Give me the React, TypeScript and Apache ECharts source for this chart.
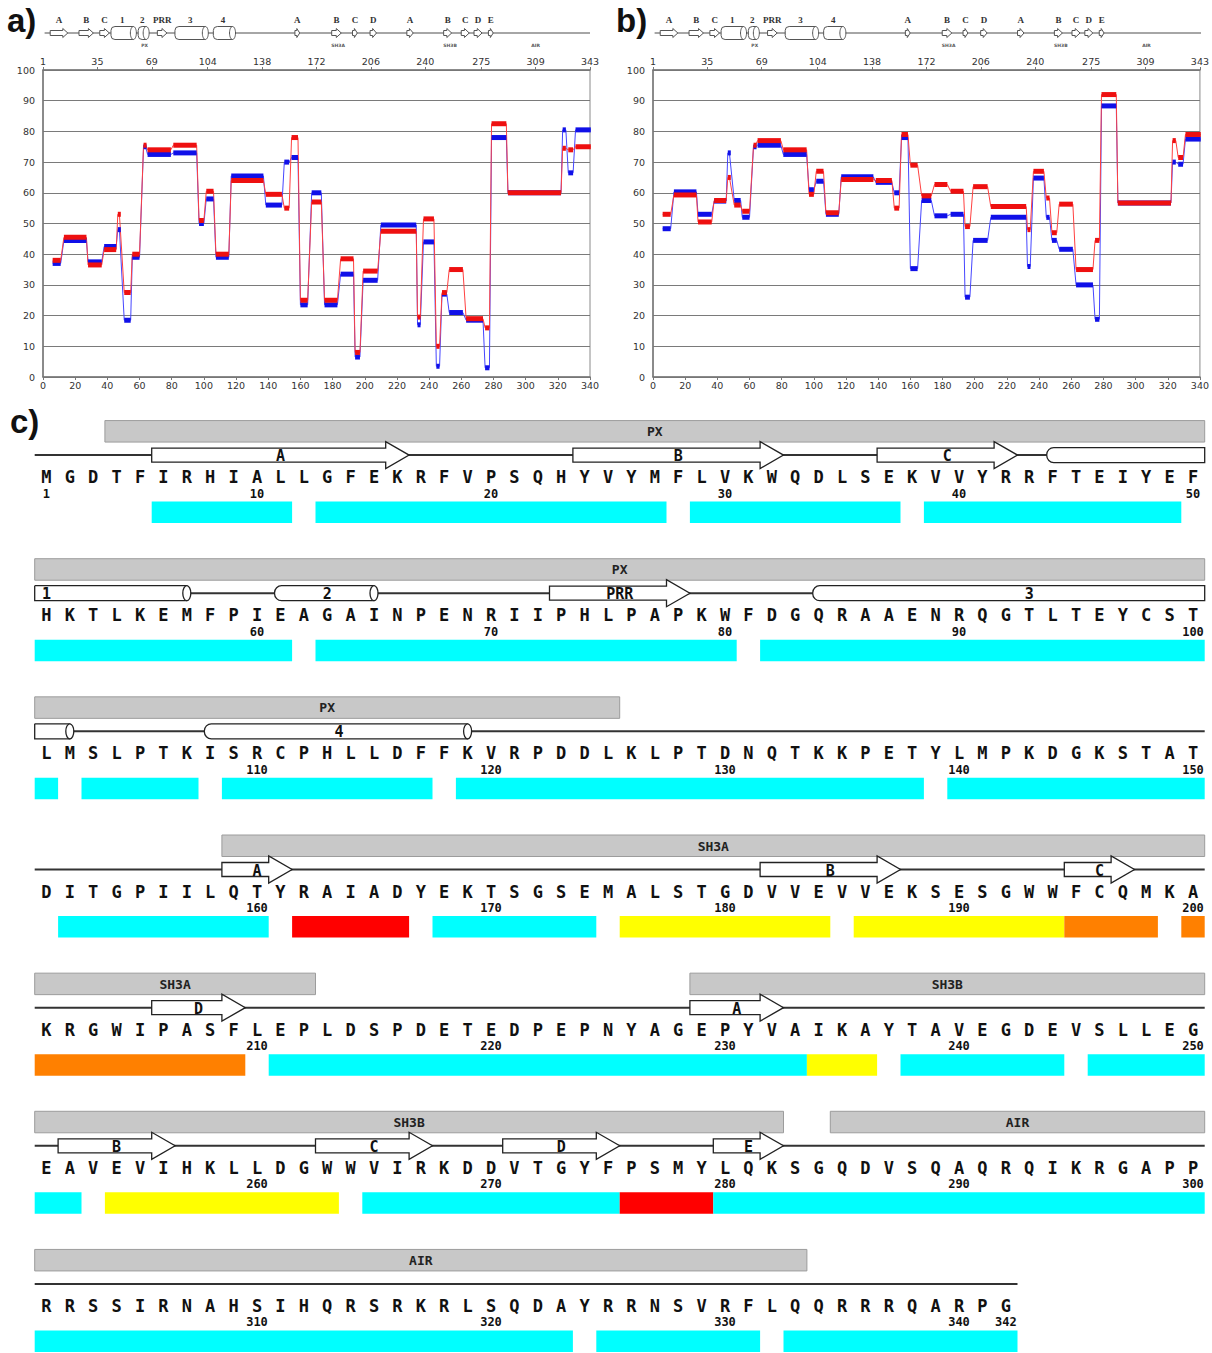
import React, { useEffect, useRef } from "react";
import * as echarts from "echarts";

// ---------------- DATA ----------------
const sequenceRows = [
  "MGDTFIRHIALLGFEKRFVPSQHYVYMFLVKWQDLSEKVVYRRFTEIYEF",
  "HKTLKEMFPIEAGAINPENRIIPHLPAPKWFDGQRAAENRQGTLTEYCST",
  "LMSLPTKISRCPHLLDFFKVRPDDLKLPTDNQTKKPETYLMPKDGKSTAT",
  "DITGPIILQTYRAIADYEKTSGSEMALSTGDVVEVVEKSESGWWFCQMKA",
  "KRGWIPASFLEPLDSPDETEDPEPNYAGEPYVAIKAYTAVEGDEVSLLEG",
  "EAVEVIHKLLDGWWVIRKDDVTGYFPSMYLQKSGQDVSQAQRQIKRGAPP",
  "RRSSIRNAHSIHQRSRKRLSQDAYRRNSVRFLQQRRRQARPG",
];
const sequence = sequenceRows.join("");

// secondary structure elements (E = strand, H = helix)
const ssName = ["A", "B", "C", "1", "2", "PRR", "3", "4", "A", "B", "C", "D", "A", "B", "C", "D", "E"];
const ssType = ["E", "E", "E", "H", "H", "E", "H", "H", "E", "E", "E", "E", "E", "E", "E", "E", "E"];
const ssStart = [6, 24, 37, 44, 61, 73, 84, 108, 159, 182, 195, 206, 229, 252, 263, 271, 280];
const ssEnd = [16, 32, 42, 57, 65, 78, 102, 119, 161, 187, 197, 209, 232, 256, 267, 275, 282];

// domains
const domainName = ["PX", "SH3A", "SH3B", "AIR"];
const domainStart = [4, 159, 229, 285];
const domainEnd = [125, 212, 282, 333];

// accessibility / conservation bars (c = cyan, r = red, y = yellow, o = orange)
const accStart = [6, 13, 29, 39, 51, 63, 82, 101, 103, 109, 119, 140, 152, 162, 168, 176, 186, 195, 200, 201, 211, 234, 238, 246, 251, 254, 265, 276, 280, 301, 325, 333];
const accEnd = [11, 27, 37, 49, 61, 80, 100, 101, 107, 117, 138, 150, 160, 166, 174, 184, 194, 198, 200, 209, 233, 236, 244, 250, 252, 263, 275, 279, 300, 323, 331, 342];
const accClass = ["c", "c", "c", "c", "c", "c", "c", "c", "c", "c", "c", "c", "c", "r", "c", "y", "y", "o", "o", "o", "c", "y", "c", "c", "c", "y", "c", "r", "c", "c", "c", "c"];
const accColors: any = { c: "#00ffff", r: "#ff0000", y: "#ffff00", o: "#ff8000" };

// plot segments (shared x ranges for panels a and b)
const segStart = [6, 13, 28, 38, 46.5, 50.5, 55.5, 62.5, 65, 81, 97, 101.5, 107.5, 117, 138.5, 150, 154.5, 160, 167, 175, 185, 194, 199, 210, 232.8, 236.5, 244.5, 248, 252.5, 263, 274.8, 278.8, 289, 323, 326.5, 331];
const segEnd = [11, 27, 36.5, 45.5, 47.5, 54.5, 60, 63.8, 79.5, 95.5, 100, 106, 115.5, 137, 148.5, 153, 158.5, 164.5, 173, 183, 193, 197, 208, 232, 234.5, 243, 246.5, 251, 261, 273.5, 277.5, 288, 322, 325, 329.5, 340.5];
const aRed = [38, 45.5, 36.5, 41.5, 53, 27.5, 40, 75.5, 74, 75.5, 51, 60.5, 40, 64, 59.5, 55, 78, 25, 57, 25, 38.5, 8, 34.5, 47.5, 19.5, 51.5, 10, 27.5, 35, 19, 16, 82.5, 60, 74.5, 74, 75];
const aBlue = [37, 44.5, 37.5, 42.5, 48, 18.5, 39, 75, 72.5, 73, 50, 58, 39, 65.5, 56, 70, 71.5, 23.5, 60, 23.5, 33.5, 6.5, 31.5, 49.5, 17, 44, 3.5, 27, 21, 18.5, 3, 78, 60, 80.5, 66.5, 80.5];
const bRed = [53, 59.3, 50.5, 57.5, 65, 56, 54, 75.5, 77, 74, 59.5, 67, 53.5, 64.3, 64, 55, 79, 69, 59, 62.7, 60.5, 49, 62, 55.5, 48, 67, 58.3, 47, 56.3, 35, 44.5, 92, 56.7, 77, 71.5, 79];
const bBlue = [48.3, 60.3, 53, 57.3, 73, 57.5, 52, 75, 75.5, 72.5, 61, 63.8, 53, 65.2, 63.4, 60, 78, 35.3, 57.5, 52.5, 53, 26, 44.5, 52, 36, 64.8, 52, 44.5, 41.6, 30, 18.8, 88.3, 56.7, 70, 69.3, 77.5];

const topTicks = [1, 35, 69, 104, 138, 172, 206, 240, 275, 309, 343];

const ROW = 50;

// ---------------- HELPERS ----------------
function rowPieces(s: number, e: number) {
  const out: any[] = [];
  let a = s;
  while (a <= e) {
    const row = Math.floor((a - 1) / ROW);
    const b = Math.min(e, (row + 1) * ROW);
    out.push({ row, c0: a - row * ROW, c1: b - row * ROW, openL: a !== s, openR: b !== e });
    a = b + 1;
  }
  return out;
}

const segPoints = (vals: number[]) => {
  const pts: any[] = [];
  vals.forEach((v, i) => { pts.push([segStart[i], v]); pts.push([segEnd[i], v]); });
  return pts;
};
const segItems = (vals: number[]) => vals.map((v, i) => [segStart[i], v, segEnd[i]]);

function plotSeries(xi: number, yi: number, red: number[], blue: number[]) {
  const thin = (vals: number[], color: string, z: number) => ({
    type: "line", xAxisIndex: xi, yAxisIndex: yi, data: segPoints(vals), symbol: "none", z,
    lineStyle: { width: 1, color }, silent: true,
  });
  const bars = (vals: number[], color: string, z: number) => ({
    type: "custom", xAxisIndex: xi, yAxisIndex: yi, data: segItems(vals), z, clip: false,
    renderItem: (params: any, api: any) => {
      const p1 = api.coord([api.value(0), api.value(1)]);
      const p2 = api.coord([api.value(2), api.value(1)]);
      return { type: "rect", shape: { x: p1[0], y: p1[1] - 2.5, width: Math.max(p2[0] - p1[0], 3), height: 5 }, style: { fill: color } };
    },
  });
  return [thin(blue, "#4646ff", 2), thin(red, "#ff4040", 3), bars(blue, "#1010e8", 4), bars(red, "#ee1010", 5)];
}

const hdrSS = ssStart.map((s, i) => [s, 0.5, ssEnd[i], ssType[i] === "H" ? 1 : 0, i]);
const hdrDom = domainStart.map((s, i) => [(s + domainEnd[i]) / 2, 0.5, i]);

function headerSeries(xi: number, yi: number) {
  return [
    {
      type: "custom", xAxisIndex: xi, yAxisIndex: yi, data: [[2, 0.5, 343]], z: 1, clip: false,
      renderItem: (params: any, api: any) => {
        const p1 = api.coord([api.value(0), api.value(1)]);
        const p2 = api.coord([api.value(2), api.value(1)]);
        return { type: "line", shape: { x1: p1[0], y1: p1[1], x2: p2[0], y2: p2[1] }, style: { stroke: "#888", lineWidth: 1.5 } };
      },
    },
    {
      type: "custom", xAxisIndex: xi, yAxisIndex: yi, data: hdrSS, z: 2, clip: false,
      renderItem: (params: any, api: any) => {
        const s = api.value(0), e = api.value(2), helix = api.value(3), idx = api.value(4);
        const y = api.coord([s, 0.5])[1];
        const x0 = api.coord([s - 0.5, 0.5])[0];
        const x1 = api.coord([e + 0.5, 0.5])[0];
        const xc = (x0 + x1) / 2;
        const children: any[] = [];
        const st = { fill: "#fff", stroke: "#555", lineWidth: 1 };
        if (helix) {
          children.push({ type: "rect", shape: { x: x0, y: y - 6.5, width: x1 - x0, height: 13, r: [4, 0, 0, 4] }, style: st });
          children.push({ type: "ellipse", shape: { cx: x1, cy: y, rx: 3, ry: 6.5 }, style: st });
        } else {
          const hl = Math.min(5, (x1 - x0) * 0.6);
          const xh = x1 - hl;
          children.push({ type: "polygon", shape: { points: [[x0, y - 2.5], [xh, y - 2.5], [xh, y - 4.5], [x1, y], [xh, y + 4.5], [xh, y + 2.5], [x0, y + 2.5]] }, style: st });
        }
        children.push({ type: "text", x: xc, y: y - 13, style: { text: ssName[idx], font: 'bold 9px "Liberation Serif"', fill: "#333", align: "center", verticalAlign: "middle" } });
        return { type: "group", children };
      },
    },
    {
      type: "custom", xAxisIndex: xi, yAxisIndex: yi, data: hdrDom, z: 2, clip: false,
      renderItem: (params: any, api: any) => {
        const p = api.coord([api.value(0), api.value(1)]);
        return { type: "text", x: p[0], y: p[1] + 12, style: { text: domainName[api.value(2)], font: 'bold 4.5px "DejaVu Sans"', fill: "#555", align: "center", verticalAlign: "middle" } };
      },
    },
  ];
}

// panel c data
const nRows = Math.ceil(sequence.length / ROW);
const cBackbone: any[] = [];
for (let r = 0; r < nRows; r++) cBackbone.push([0.5, r, Math.min(ROW, sequence.length - r * ROW) + 0.5]);
const cLetters = sequence.split("").map((ch, i) => [(i % ROW) + 1, Math.floor(i / ROW), i]);
const numberRes: number[] = [];
for (let r = 1; r <= sequence.length; r++) if (r === 1 || r % 10 === 0 || r === sequence.length) numberRes.push(r);
const cNumbers = numberRes.map((r) => [((r - 1) % ROW) + 1, Math.floor((r - 1) / ROW), r]);
const cDomains: any[] = [];
domainStart.forEach((s, i) => rowPieces(s, domainEnd[i]).forEach((p) => cDomains.push([p.c0, p.row, p.c1, i])));
const cSS: any[] = [];
ssStart.forEach((s, i) => rowPieces(s, ssEnd[i]).forEach((p) => cSS.push([p.c0, p.row, p.c1, ssType[i] === "H" ? 1 : 0, p.openL ? 1 : 0, p.openR ? 1 : 0])));
const cSSLabels = ssStart.map((s, i) => {
  const c = (s + ssEnd[i]) / 2;
  const row = Math.floor((c - 0.5) / ROW);
  return [Math.max(1, c - row * ROW), row, i];
});
const accKeys = ["c", "r", "y", "o"];
const cAcc: any[] = [];
accStart.forEach((s, i) => rowPieces(s, accEnd[i]).forEach((p) => cAcc.push([p.c0, p.row, p.c1, accKeys.indexOf(accClass[i])])));

const MONO = '"DejaVu Sans Mono"';

function panelCSeries(xi: number, yi: number) {
  const base = { type: "custom", xAxisIndex: xi, yAxisIndex: yi, clip: false };
  return [
    {
      ...base, data: cDomains, z: 1,
      renderItem: (params: any, api: any) => {
        const row = api.value(1);
        const p0 = api.coord([api.value(0) - 0.5, row]);
        const p1 = api.coord([api.value(2) + 0.5, row]);
        const y = p0[1];
        return {
          type: "group", children: [
            { type: "rect", shape: { x: p0[0], y: y - 34.5, width: p1[0] - p0[0], height: 21.5 }, style: { fill: "#c8c8c8", stroke: "#9c9c9c", lineWidth: 1 } },
            { type: "text", x: (p0[0] + p1[0]) / 2, y: y - 23.5, style: { text: domainName[api.value(3)], font: `bold 13px ${MONO}`, fill: "#222", align: "center", verticalAlign: "middle" } },
          ],
        };
      },
    },
    {
      ...base, data: cBackbone, z: 1,
      renderItem: (params: any, api: any) => {
        const p0 = api.coord([api.value(0), api.value(1)]);
        const p1 = api.coord([api.value(2), api.value(1)]);
        return { type: "line", shape: { x1: p0[0], y1: p0[1], x2: p1[0], y2: p1[1] }, style: { stroke: "#333", lineWidth: 2 } };
      },
    },
    {
      ...base, data: cSS, z: 2,
      renderItem: (params: any, api: any) => {
        const c0 = api.value(0), row = api.value(1), c1 = api.value(2);
        const helix = api.value(3), oL = api.value(4), oR = api.value(5);
        const X = (c: number) => api.coord([c, row])[0];
        const y = api.coord([c0, row])[1];
        const st = { fill: "#fff", stroke: "#222", lineWidth: 1.3 };
        if (helix) {
          const x0 = oL ? X(0.5) : X(c0 - 0.25);
          const x1 = oR ? X(ROW + 0.5) : X(c1);
          const children: any[] = [
            { type: "rect", shape: { x: x0, y: y - 7.5, width: x1 - x0, height: 15, r: oL ? [0, 0, 0, 0] : [7, 0, 0, 7] }, style: st },
          ];
          if (!oR) children.push({ type: "ellipse", shape: { cx: x1, cy: y, rx: 4, ry: 7.5 }, style: st });
          return { type: "group", children };
        }
        const x0 = X(c0 - 0.5), xh = X(c1 - 0.5), xt = X(c1 + 0.5);
        return {
          type: "polygon",
          shape: { points: [[x0, y - 7], [xh, y - 7], [xh, y - 13.5], [xt, y], [xh, y + 13.5], [xh, y + 7], [x0, y + 7]] },
          style: st,
        };
      },
    },
    {
      ...base, data: cSSLabels, z: 3,
      renderItem: (params: any, api: any) => {
        const p = api.coord([api.value(0), api.value(1)]);
        return { type: "text", x: p[0], y: p[1] + 1, style: { text: ssName[api.value(2)], font: `bold 15px ${MONO}`, fill: "#111", align: "center", verticalAlign: "middle" } };
      },
    },
    {
      ...base, data: cLetters, z: 3,
      renderItem: (params: any, api: any) => {
        const p = api.coord([api.value(0), api.value(1)]);
        return { type: "text", x: p[0], y: p[1] + 22, style: { text: sequence[api.value(2)], font: `bold 17px ${MONO}`, fill: "#111", align: "center", verticalAlign: "middle" } };
      },
    },
    {
      ...base, data: cNumbers, z: 3,
      renderItem: (params: any, api: any) => {
        const p = api.coord([api.value(0), api.value(1)]);
        return { type: "text", x: p[0], y: p[1] + 38.5, style: { text: String(api.value(2)), font: `bold 12px ${MONO}`, fill: "#111", align: "center", verticalAlign: "middle" } };
      },
    },
    {
      ...base, data: cAcc, z: 2,
      renderItem: (params: any, api: any) => {
        const row = api.value(1);
        const p0 = api.coord([api.value(0) - 0.5, row]);
        const p1 = api.coord([api.value(2) + 0.5, row]);
        return { type: "rect", shape: { x: p0[0], y: p0[1] + 46.5, width: p1[0] - p0[0], height: 21.5 }, style: { fill: accColors[accKeys[api.value(3)]] } };
      },
    },
  ];
}

function bottomX(gridIndex: number) {
  return {
    type: "value", gridIndex, min: 0, max: 340, interval: 20, position: "bottom",
    axisLine: { show: true, lineStyle: { color: "#777", width: 1.5 } },
    axisTick: { show: true, length: 3, lineStyle: { color: "#777" } },
    axisLabel: { fontSize: 9.5, color: "#333", margin: 3, fontFamily: "DejaVu Sans" },
    splitLine: { show: false },
  };
}
function topX(gridIndex: number) {
  return {
    type: "value", gridIndex, min: 1, max: 343, position: "top",
    axisLine: { show: true, lineStyle: { color: "#777", width: 1.5 } },
    axisTick: { show: true, length: 3, customValues: topTicks, lineStyle: { color: "#777" } },
    axisLabel: { customValues: topTicks, fontSize: 9.5, color: "#333", margin: 4, fontFamily: "DejaVu Sans" },
    splitLine: { show: false },
  };
}
function plotY(gridIndex: number) {
  return {
    type: "value", gridIndex, min: 0, max: 100, interval: 10,
    axisLine: { show: true, lineStyle: { color: "#777", width: 1.5 } },
    axisTick: { show: false },
    axisLabel: { fontSize: 9.5, color: "#333", margin: 8, fontFamily: "DejaVu Sans" },
    splitLine: { show: true, lineStyle: { color: "#7a7a7a", width: 1.2 } },
  };
}

export default function App() {
  const ref = useRef<HTMLDivElement>(null);
  useEffect(() => {
    if (!ref.current) return;
    const chart = echarts.init(ref.current, null, { renderer: "svg" });
    const option: any = {
      animation: false,
      backgroundColor: "#ffffff",
      grid: [
        { left: 43, top: 70, width: 547, height: 307, show: true, borderColor: "#8a8a8a", borderWidth: 1 },
        { left: 653, top: 70, width: 548, height: 307, show: true, borderColor: "#8a8a8a", borderWidth: 1 },
        { left: 43, top: 13, width: 547, height: 40 },
        { left: 653, top: 13, width: 548, height: 40 },
        { left: 34.7, top: 386, width: 1170, height: 973 },
      ],
      xAxis: [
        bottomX(0), topX(0), bottomX(1), topX(1),
        { type: "value", gridIndex: 2, min: 1, max: 343, show: false },
        { type: "value", gridIndex: 3, min: 1, max: 343, show: false },
        { type: "value", gridIndex: 4, min: 0.5, max: ROW + 0.5, show: false },
      ],
      yAxis: [
        plotY(0), plotY(1),
        { type: "value", gridIndex: 2, min: 0, max: 1, show: false },
        { type: "value", gridIndex: 3, min: 0, max: 1, show: false },
        { type: "value", gridIndex: 4, min: -0.5, max: 6.5, inverse: true, show: false },
      ],
      series: [
        ...plotSeries(0, 0, aRed, aBlue),
        ...plotSeries(2, 1, bRed, bBlue),
        ...headerSeries(4, 2),
        ...headerSeries(5, 3),
        ...panelCSeries(6, 4),
      ],
      graphic: [
        { type: "text", left: 7, top: 4, style: { text: "a)", font: 'bold 33px "Liberation Sans"', fill: "#111" } },
        { type: "text", left: 616, top: 4, style: { text: "b)", font: 'bold 33px "Liberation Sans"', fill: "#111" } },
        { type: "text", left: 10, top: 405, style: { text: "c)", font: 'bold 33px "Liberation Sans"', fill: "#111" } },
      ],
    };
    chart.setOption(option);
    return () => chart.dispose();
  }, []);
  return <div ref={ref} style={{ position: "absolute", left: 0, top: 0, width: 1212, height: 1353 }} />;
}
